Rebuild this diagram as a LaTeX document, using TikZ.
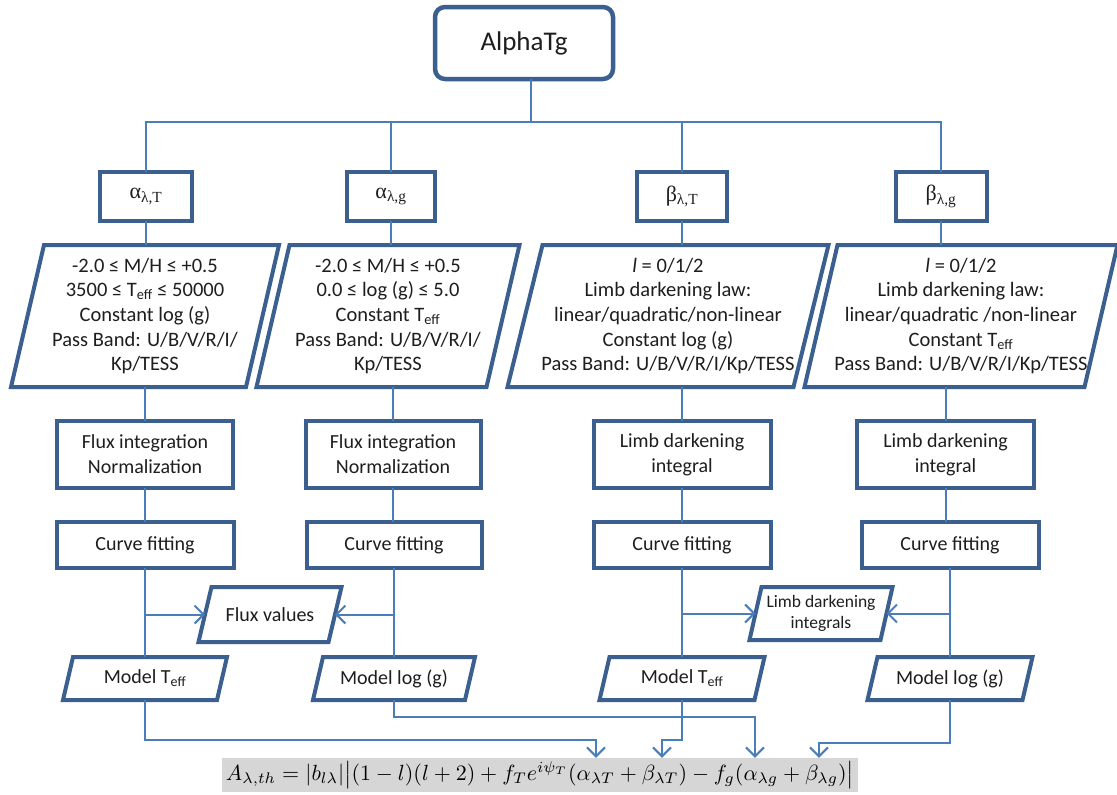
\documentclass[tikz,border=0pt]{standalone}
\usepackage{fontspec}
\usepackage{graphicx}
\setmainfont{Carlito}
\newfontfamily\grk{Liberation Serif}
\usetikzlibrary{arrows.meta}
\definecolor{boxblue}{HTML}{3B5F8E}
\definecolor{lineblue}{HTML}{4A7EBB}
\definecolor{fgray}{HTML}{D6D6D6}
\definecolor{txt}{HTML}{1E1E1E}
\tikzset{
  box/.style={draw=boxblue, line width=4pt, fill=white, inner sep=0pt, outer sep=0pt, align=center, text=txt, font=\fontsize{20}{25}\selectfont},
  ptext/.style={inner sep=0pt, outer sep=0pt, align=center, text=txt, font=\fontsize{20.5}{24.7}\selectfont},
  pline/.style={draw=boxblue, line width=4pt, line join=miter},
  conn/.style={draw=lineblue, line width=2pt},
  arr/.style={conn, -{Straight Barb[length=9pt,width=18pt,line width=2pt]}},
  greekbox/.style={box, minimum height=49pt, font=\grk\fontsize{22}{24}\selectfont},
}
% parallelogram: name, centre, width, height, slant, extra style, text
\newcommand\pbox[7]{%
  \node[ptext,#6,minimum width=#3pt,minimum height=#4pt] (#1) at (#2) {#7};
  \draw[pline] ([xshift=#5pt/2]#1.north west) -- ([xshift=#5pt/2]#1.north east)
     -- ([xshift=-#5pt/2]#1.south east) -- ([xshift=-#5pt/2]#1.south west) -- cycle;
}
\begin{document}
\begin{tikzpicture}[x=1pt,y=-1pt]
\useasboundingbox[fill=white] (0,0) rectangle (1117,795);

% top
\node[box, rounded corners=10pt, line width=4.5pt, minimum width=178pt, minimum height=72pt, font=\fontsize{27}{30}\selectfont] (top) at (524,43) {AlphaTg};

% greek boxes
\node[greekbox, minimum width=92pt] (a1) at (146,196.5) {α\textsubscript{λ,T}};
\node[greekbox, minimum width=88pt] (a2) at (391,196.5) {α\textsubscript{λ,g}};
\node[greekbox, minimum width=90pt] (b1) at (682,196.5) {β\textsubscript{λ,T}};
\node[greekbox, minimum width=91pt] (b2) at (941,196.5) {β\textsubscript{λ,g}};

% parameter parallelograms
\pbox{p1}{145,316}{235}{142}{33}{}{-2.0 ≤ M/H ≤ +0.5\\3500 ≤ T\textsubscript{eff} ≤ 50000\\Constant log (g)\\Pass Band: U/B/V/R/I/\\Kp/TESS}
\pbox{p2}{388,316}{230}{142}{33}{}{-2.0 ≤ M/H ≤ +0.5\\0.0 ≤ log (g) ≤ 5.0\\Constant T\textsubscript{eff}\\Pass Band: U/B/V/R/I/\\Kp/TESS}
\pbox{p3}{668,316}{286}{142}{35}{}{\textit{l} = 0/1/2\\Limb darkening law:\\linear/quadratic/non-linear\\Constant log (g)\\Pass Band: U/B/V/R/I/Kp/TESS}
\pbox{p4}{961,316}{280}{142}{33}{}{\textit{l} = 0/1/2\\Limb darkening law:\\linear/quadratic /non-linear\\Constant T\textsubscript{eff}\\Pass Band: U/B/V/R/I/Kp/TESS}

% second row
\node[box, minimum width=176pt, minimum height=67pt] (f1) at (145,454.5) {Flux integration\\Normalization};
\node[box, minimum width=175pt, minimum height=67pt] (f2) at (393,454.5) {Flux integration\\Normalization};
\node[box, minimum width=177pt, minimum height=67pt] (l1) at (682,454.5) {Limb darkening\\integral};
\node[box, minimum width=177pt, minimum height=67pt] (l2) at (945.5,454.5) {Limb darkening\\integral};

% curve fitting
\node[box, minimum width=177pt, minimum height=46pt] (c1) at (145,545) {Curve fitting};
\node[box, minimum width=175pt, minimum height=46pt] (c2) at (394,545) {Curve fitting};
\node[box, minimum width=177pt, minimum height=46pt] (c3) at (682,545) {Curve fitting};
\node[box, minimum width=177pt, minimum height=46pt] (c4) at (950,545) {Curve fitting};

% collected values
\pbox{fv}{270,614.5}{130}{55}{13}{font=\fontsize{20}{25}\selectfont}{Flux values}
\pbox{li}{821,613.5}{131}{53}{12}{font=\fontsize{17.5}{21}\selectfont}{Limb darkening\\integrals}

% model outputs
\pbox{m1}{145,678.5}{154}{43}{10}{font=\fontsize{20}{25}\selectfont}{Model T\textsubscript{eff}}
\pbox{m2}{394,678.5}{152}{43}{10}{font=\fontsize{20}{25}\selectfont}{Model log (g)}
\pbox{m3}{682,678.5}{155}{43}{10}{font=\fontsize{20}{25}\selectfont}{Model T\textsubscript{eff}}
\pbox{m4}{950,678.5}{155}{43}{10}{font=\fontsize{20}{25}\selectfont}{Model log (g)}

% formula
\node[fill=fgray, inner sep=0pt, minimum width=636pt, minimum height=34pt] (fm) at (540,775)
  {\resizebox{628pt}{!}{$A_{\lambda,th} = |b_{l\lambda}|\bigl|(1-l)(l+2)+f_Te^{i\psi_T}(\alpha_{\lambda T}+\beta_{\lambda T})-f_g(\alpha_{\lambda g}+\beta_{\lambda g})\bigr|$}};

% connectors: tree
\coordinate (hub) at (531,122);
\draw[conn] (top.south -| hub) -- (hub);
\draw[conn] (a1.north) -- (a1.north |- hub) -- (b2.north |- hub) -- (b2.north);
\draw[conn] (a2.north) -- (a2.north |- hub);
\draw[conn] (b1.north) -- (b1.north |- hub);

\foreach \g/\p/\s/\c/\m in {a1/p1/f1/c1/m1, a2/p2/f2/c2/m2, b1/p3/l1/c3/m3, b2/p4/l2/c4/m4}{
  \draw[conn] (\g.south) -- (\g.south |- \p.north);
  \draw[conn] (\s.north |- \p.south) -- (\s.north);
  \draw[conn] (\s.south) -- (\s.south |- \c.north);
  \draw[conn] (\c.south) -- (\c.south |- \m.north);
}

\draw[arr] (c1.south |- fv.west) -- (fv.west);
\draw[arr] (c2.south |- fv.east) -- (fv.east);
\draw[arr] (c3.south |- li.west) -- (li.west);
\draw[arr] (c4.south |- li.east) -- (li.east);

% connectors to formula
\coordinate (k1) at (596,740);
\coordinate (k2) at (755,717);
\coordinate (k3) at (662,740);
\coordinate (k4) at (819,743);
\draw[arr] (m1.south) |- (k1) -- (k1 |- fm.north);
\draw[arr] (m2.south) |- (k2) -- (k2 |- fm.north);
\draw[arr] (m3.south) |- (k3) -- (k3 |- fm.north);
\draw[arr] (m4.south) |- (k4) -- (k4 |- fm.north);
\end{tikzpicture}
\end{document}
